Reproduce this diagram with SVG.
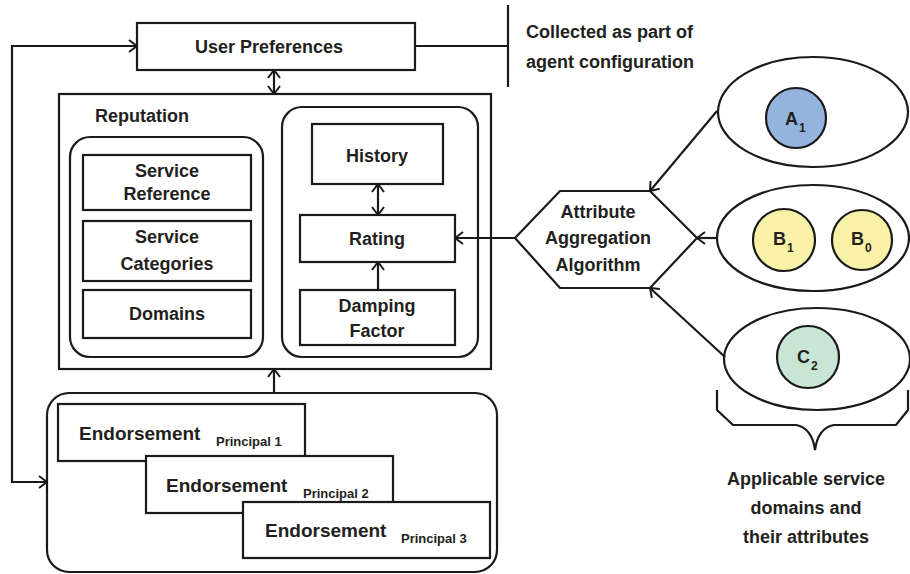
<svg xmlns="http://www.w3.org/2000/svg" width="910" height="574" viewBox="0 0 910 574">
<style>
.b{fill:#fff;stroke:#1a1a1a;stroke-width:2.2}
.l{fill:none;stroke:#1a1a1a;stroke-width:2.2}
.t{font-family:"Liberation Sans",Arial,sans-serif;font-weight:bold;font-size:18px;fill:#231f20}
.e{font-size:19px}
.m{text-anchor:middle}
.s{font-family:"Liberation Sans",Arial,sans-serif;font-weight:bold;font-size:13px;fill:#231f20}
.sub{font-family:"Liberation Sans",Arial,sans-serif;font-weight:bold;font-size:12px;fill:#231f20}
</style>
<defs>
<marker id="ah" viewBox="0 0 10 14" markerWidth="10" markerHeight="14" refX="9" refY="7" orient="auto-start-reverse" markerUnits="userSpaceOnUse">
<path d="M1,1 L9,7 L1,13" fill="none" stroke="#1a1a1a" stroke-width="2"/>
</marker>
</defs>
<rect width="910" height="574" fill="#fff"/>

<g id="user-preferences">
<rect class="b" x="137" y="23" width="278" height="47"/>
<text class="t m" x="269" y="53">User Preferences</text>
</g>

<g id="note-config">
<text class="t" x="526" y="38">Collected as part of</text>
<text class="t" x="526" y="68">agent configuration</text>
</g>

<g id="reputation">
<rect class="b" x="59" y="94" width="432" height="275"/>
<text class="t" x="95" y="122">Reputation</text>
</g>

<g id="left-group">
<rect class="b" x="70" y="137" width="193" height="220" rx="20"/>
</g>
<g id="service-reference">
<rect class="b" x="83" y="155" width="168" height="55"/>
<text class="t m" x="167" y="177">Service</text>
<text class="t m" x="167" y="200">Reference</text>
</g>
<g id="service-categories">
<rect class="b" x="83" y="221" width="168" height="60"/>
<text class="t m" x="167" y="243">Service</text>
<text class="t m" x="167" y="270">Categories</text>
</g>
<g id="domains">
<rect class="b" x="83" y="290" width="168" height="48"/>
<text class="t m" x="167" y="320">Domains</text>
</g>

<g id="right-group">
<rect class="b" x="282" y="107" width="196" height="250" rx="20"/>
</g>
<g id="history">
<rect class="b" x="312" y="124" width="131" height="60"/>
<text class="t m" x="377" y="162">History</text>
</g>
<g id="rating">
<rect class="b" x="300" y="215" width="155" height="47"/>
<text class="t m" x="377" y="245">Rating</text>
</g>
<g id="damping-factor">
<rect class="b" x="300" y="290" width="155" height="55"/>
<text class="t m" x="377" y="312">Damping</text>
<text class="t m" x="377" y="337">Factor</text>
</g>

<g id="endorsements">
<rect class="b" x="47" y="393" width="450" height="179" rx="22"/>
</g>
<g id="endorsement-1">
<rect class="b" x="58" y="404" width="247" height="57"/>
<text class="t e" x="79" y="440">Endorsement</text>
<text class="s" x="216" y="446">Principal 1</text>
</g>
<g id="endorsement-2">
<rect class="b" x="146" y="456" width="247" height="57"/>
<text class="t e" x="166" y="492">Endorsement</text>
<text class="s" x="303" y="498">Principal 2</text>
</g>
<g id="endorsement-3">
<rect class="b" x="243" y="502" width="247" height="56"/>
<text class="t e" x="265" y="537">Endorsement</text>
<text class="s" x="401" y="543">Principal 3</text>
</g>

<g id="aggregation">
<polygon class="b" points="515,238 560,191 650,191 697,238 650,288 560,288"/>
<text class="t m" x="598" y="218">Attribute</text>
<text class="t m" x="598" y="244">Aggregation</text>
<text class="t m" x="598" y="271">Algorithm</text>
</g>

<g id="domain-a">
<ellipse class="b" cx="813" cy="112" rx="95" ry="55"/>
<circle cx="796" cy="118" r="30" fill="#94b4de" stroke="#1a1a1a" stroke-width="2.2"/>
<text class="t" x="785" y="125">A</text>
<text class="sub" x="799" y="132">1</text>
</g>

<g id="domain-b">
<ellipse class="b" cx="813" cy="238" rx="96" ry="53"/>
<circle cx="784" cy="240" r="31" fill="#f9f1a5" stroke="#1a1a1a" stroke-width="2.2"/>
<text class="t" x="773" y="245">B</text>
<text class="sub" x="787" y="252">1</text>
<circle cx="862" cy="240" r="30" fill="#f9f1a5" stroke="#1a1a1a" stroke-width="2.2"/>
<text class="t" x="851" y="245">B</text>
<text class="sub" x="865" y="252">0</text>
</g>

<g id="domain-c">
<ellipse class="b" cx="817" cy="359" rx="93" ry="51"/>
<circle cx="808" cy="357" r="31" fill="#c9e5d3" stroke="#1a1a1a" stroke-width="2.2"/>
<text class="t" x="797" y="363">C</text>
<text class="sub" x="811" y="370">2</text>
</g>

<g id="brace">
<path class="l" d="M717,390 L717,410 L733,425 L796,425 Q812,428 815,450 Q818,428 834,425 L896,425 L908,410 L908,390"/>
<text class="t m" x="806" y="485">Applicable service</text>
<text class="t m" x="806" y="514">domains and</text>
<text class="t m" x="806" y="543">their attributes</text>
</g>

<g id="connectors">
<path class="l" d="M137,46 L12,46 L12,482 L47,482" marker-start="url(#ah)" marker-end="url(#ah)"/>
<path class="l" d="M415,46 L508,46"/>
<path class="l" d="M508,5 L508,87"/>
<path class="l" d="M274,70 L274,94" marker-start="url(#ah)" marker-end="url(#ah)"/>
<path class="l" d="M378,184 L378,215" marker-start="url(#ah)" marker-end="url(#ah)"/>
<path class="l" d="M378,290 L378,262" marker-end="url(#ah)"/>
<path class="l" d="M274,393 L274,369" marker-end="url(#ah)"/>
<path class="l" d="M515,238 L455,238" marker-end="url(#ah)"/>
<path class="l" d="M717,111 L650,191" marker-end="url(#ah)"/>
<path class="l" d="M717,238 L697,238" marker-end="url(#ah)"/>
<path class="l" d="M725,357 L650,288" marker-end="url(#ah)"/>
</g>
</svg>
